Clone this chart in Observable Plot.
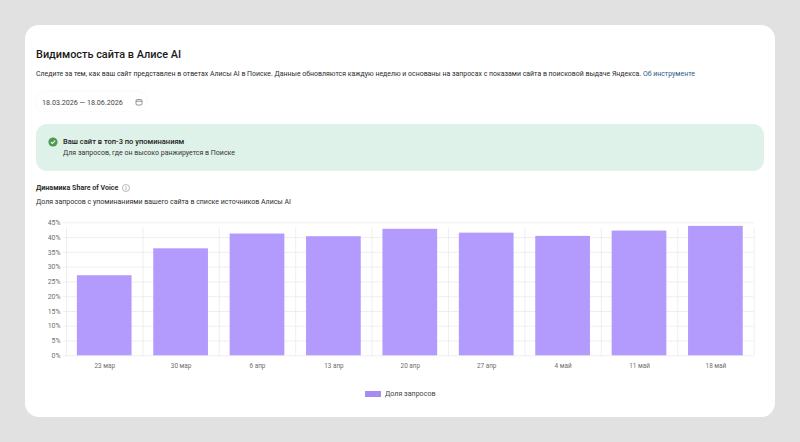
<!DOCTYPE html>
<html lang="ru">
<head>
<meta charset="utf-8">
<script src="https://cdn.jsdelivr.net/npm/d3@7"></script>
<script src="https://cdn.jsdelivr.net/npm/@observablehq/plot@0.6"></script>
<style>
html,body{margin:0;padding:0;width:800px;height:442px;overflow:hidden;background:#e1e1e1;font-family:Roboto,"Noto Sans",sans-serif;color:#1f1f1f}
.card{position:absolute;left:25px;top:25px;width:750px;height:392px;background:#fff;border-radius:14px}
.t{position:absolute;white-space:nowrap;line-height:1}
.title{left:36px;top:49.5px;font-size:10.9px;font-weight:500;color:#1a1a1a}
.desc{left:36px;top:71px;font-size:6.94px;color:#2a2a2a}
.desc a{color:#1f5a86;text-decoration:none}
.date{left:42px;top:98.5px;font-size:7.13px;color:#444}
.datebox{position:absolute;left:36px;top:92px;width:110px;height:19px;border-radius:8px;box-shadow:0 0 3px rgba(0,0,0,.05)}
.banner{position:absolute;left:36px;top:124px;width:728px;height:47px;background:#dff2e9;border-radius:11px}
.b1{left:63px;top:138px;font-size:7.54px;font-weight:500;color:#1a1a1a}
.b2{left:63px;top:150px;font-size:7px;color:#333}
.h2{left:36px;top:184px;font-size:7.1px;font-weight:600;color:#222}
.sub{left:36px;top:198.5px;font-size:7px;color:#2f2f2f}
#chart{position:absolute;left:25px;top:212px}
#chart svg{display:block}
.sw{position:absolute;left:365px;top:391px;width:16px;height:6px;background:#a78bf0}
.lg{left:385px;top:390px;font-size:7.1px;color:#444}
.ic{position:absolute}
</style>
</head>
<body>
<div class="card"></div>
<div class="t title">Видимость сайта в Алисе AI</div>
<div class="t desc">Следите за тем, как ваш сайт представлен в ответах Алисы AI в Поиске. Данные обновляются каждую неделю и основаны на запросах с показами сайта в поисковой выдаче Яндекса. <a>Об инструменте</a></div>
<div class="datebox"></div>
<div class="t date">18.03.2026 — 18.06.2026</div>
<svg class="ic" style="left:135px;top:98px" width="8" height="8" viewBox="0 0 8 8"><rect x="1" y="1.5" width="6" height="5.5" rx="1.2" fill="none" stroke="#777" stroke-width=".8"/><path d="M1 3.2H7" stroke="#777" stroke-width=".8"/></svg>
<div class="banner"></div>
<svg class="ic" style="left:48px;top:137px" width="10" height="10" viewBox="0 0 10 10"><circle cx="5" cy="5" r="4.6" fill="#4d9a51"/><path d="M2.9 5.1L4.4 6.5L7.1 3.6" fill="none" stroke="#fff" stroke-width="1.1"/></svg>
<div class="t b1">Ваш сайт в топ-3 по упоминаниям</div>
<div class="t b2">Для запросов, где он высоко ранжируется в Поиске</div>
<div class="t h2">Динамика Share of Voice</div>
<svg class="ic" style="left:122px;top:184px" width="8" height="8" viewBox="0 0 8 8"><circle cx="4" cy="4" r="3.5" fill="none" stroke="#888" stroke-width=".6"/><path d="M4 3.4V6M4 2V2.7" stroke="#888" stroke-width=".7"/></svg>
<div class="t sub">Доля запросов с упоминаниями вашего сайта в списке источников Алисы AI</div>
<div id="chart"></div>
<div class="sw"></div>
<div class="t lg">Доля запросов</div>
<script>
const categories = ["23 мар","30 мар","6 апр","13 апр","20 апр","27 апр","4 май","11 май","18 май"];
const shares = [27.1,36.2,41.2,40.3,42.8,41.5,40.4,42.2,43.8];
const yTicks = [0,5,10,15,20,25,30,35,40,45];

const rows = categories.map((c,i)=>({c,i,v:shares[i]}));
const edges = d3.range(categories.length+1);
const centers = categories.map((_,i)=>i+0.5);

const chart = Plot.plot({
  width:750, height:180,
  marginLeft:41, marginRight:21.4, marginTop:10.3, marginBottom:36.7,
  style:{background:"transparent",fontFamily:"Roboto, 'Noto Sans', sans-serif"},
  x:{type:"linear",domain:[0,categories.length]},
  y:{type:"linear",domain:[0,45]},
  marks:[
    Plot.ruleY(yTicks,{stroke:"#ebebeb",strokeWidth:0.8,insetLeft:-3}),
    Plot.ruleX(edges,{y1:0,y2:45,stroke:"#ebebeb",strokeWidth:0.8,insetBottom:-5}),
    Plot.rect(rows,{x1:"i",x2:d=>d.i+1,y1:0,y2:"v",fill:"#b39afd",insetLeft:10.85,insetRight:10.85}),
    Plot.axisX(centers,{tickSize:0,tickPadding:8,fontSize:6.4,fill:"#6e6e6e",tickFormat:(d,i)=>categories[i],label:null}),
    Plot.axisY(yTicks,{tickSize:0,tickPadding:6,fontSize:6.9,fill:"#6e6e6e",tickFormat:d=>d+"%",label:null})
  ]
});
document.getElementById("chart").appendChild(chart);
</script>
</body>
</html>
